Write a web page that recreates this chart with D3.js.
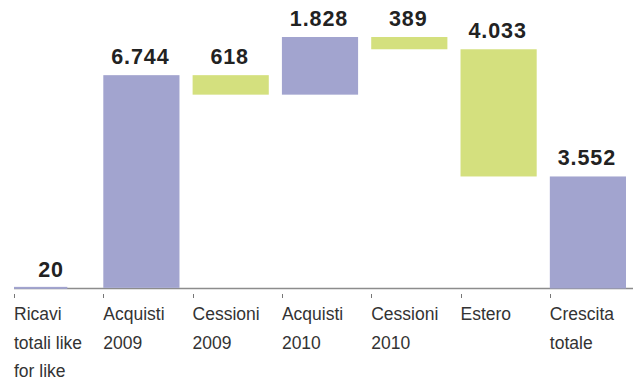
<!DOCTYPE html>
<html>
<head>
<meta charset="utf-8">
<script src="https://cdn.jsdelivr.net/npm/d3@7"></script>
<style>
  html, body { margin: 0; padding: 0; background: #fff; }
  svg { display: block; }
</style>
</head>
<body>
<svg id="chart" width="633" height="383"></svg>
<script>
// Waterfall: like-for-like revenue bridge to total growth
const categories = ["Ricavi totali like for like", "Acquisti 2009", "Cessioni 2009", "Acquisti 2010", "Cessioni 2010", "Estero", "Crescita totale"];
const labelLines = [["Ricavi", "totali like", "for like"], ["Acquisti", "2009"], ["Cessioni", "2009"], ["Acquisti", "2010"], ["Cessioni", "2010"], ["Estero"], ["Crescita", "totale"]];
const values = [20, 6744, -618, 1828, -389, -4033, 3552];
const kinds = ["total", "delta", "delta", "delta", "delta", "delta", "total"];

const W = 633, H = 383;
const colors = { up: "#a2a4cf", down: "#d4e07e", total: "#a2a4cf" };

// build running start/end for every step
let running = 0;
const steps = categories.map((c, i) => {
  let start, end;
  if (kinds[i] === "total") { start = 0; end = values[i]; running = values[i]; }
  else { start = running; end = running + values[i]; running = end; }
  return { cat: c, lines: labelLines[i], value: values[i], kind: kinds[i], start, end, idx: i };
});

const x = d3.scaleBand().domain(categories).range([14, 626]).paddingInner(0.147).paddingOuter(0).align(0);
const yMax = d3.max(steps, d => Math.max(d.start, d.end));
const y = d3.scaleLinear().domain([0, yMax]).range([288.5, 37]);

const itFmt = d3.formatLocale({ decimal: ",", thousands: ".", grouping: [3], currency: ["€", ""] }).format(",d");

const svg = d3.select("#chart");

// baseline
svg.append("line")
  .attr("x1", x(categories[0])).attr("x2", W)
  .attr("y1", y(0)).attr("y2", y(0))
  .attr("stroke", "#8c8c8c").attr("stroke-width", 1.6);

// tick marks at the left edge of each band
svg.append("g").selectAll("line").data(categories).join("line")
  .attr("x1", d => Math.round(x(d)) + 0.5).attr("x2", d => Math.round(x(d)) + 0.5)
  .attr("y1", y(0) + 5.5).attr("y2", y(0) + 9.5)
  .attr("stroke", "#777").attr("stroke-width", 1);

// bars
svg.append("g").selectAll("rect").data(steps).join("rect")
  .attr("x", d => x(d.cat))
  .attr("width", d => d.idx === 0 ? x.bandwidth() * 0.7 : x.bandwidth())
  .attr("y", d => Math.min(y(d.start), y(d.end)) - (d.idx === 0 ? 1 : 0))
  .attr("height", d => Math.max(Math.abs(y(d.start) - y(d.end)), 2))
  .attr("fill", d => d.kind === "total" ? colors.total : (d.value >= 0 ? colors.up : colors.down));

// value labels above each bar
svg.append("g").selectAll("text").data(steps).join("text")
  .attr("x", d => x(d.cat) + x.bandwidth() / 2 - 1)
  .attr("y", d => Math.min(y(d.start), y(d.end)) - 11)
  .attr("text-anchor", "middle")
  .attr("font-family", "'Liberation Sans', Arial, sans-serif")
  .attr("font-weight", "bold")
  .attr("font-size", 21.5)
  .attr("letter-spacing", 0.9)
  .attr("fill", "#222")
  .text(d => itFmt(Math.abs(d.value)));

// category labels, multi-line, left aligned at the tick
const lab = svg.append("g").selectAll("text").data(steps).join("text")
  .attr("x", d => x(d.cat))
  .attr("y", 320)
  .attr("font-family", "'Liberation Sans', Arial, sans-serif")
  .attr("font-size", 17.5)
  .attr("fill", "#333");
lab.selectAll("tspan").data(d => d.lines.map(l => ({ l, x: x(d.cat) }))).join("tspan")
  .attr("x", t => t.x)
  .attr("dy", (t, i) => i === 0 ? 0 : 28.5)
  .text(t => t.l);
</script>
</body>
</html>
